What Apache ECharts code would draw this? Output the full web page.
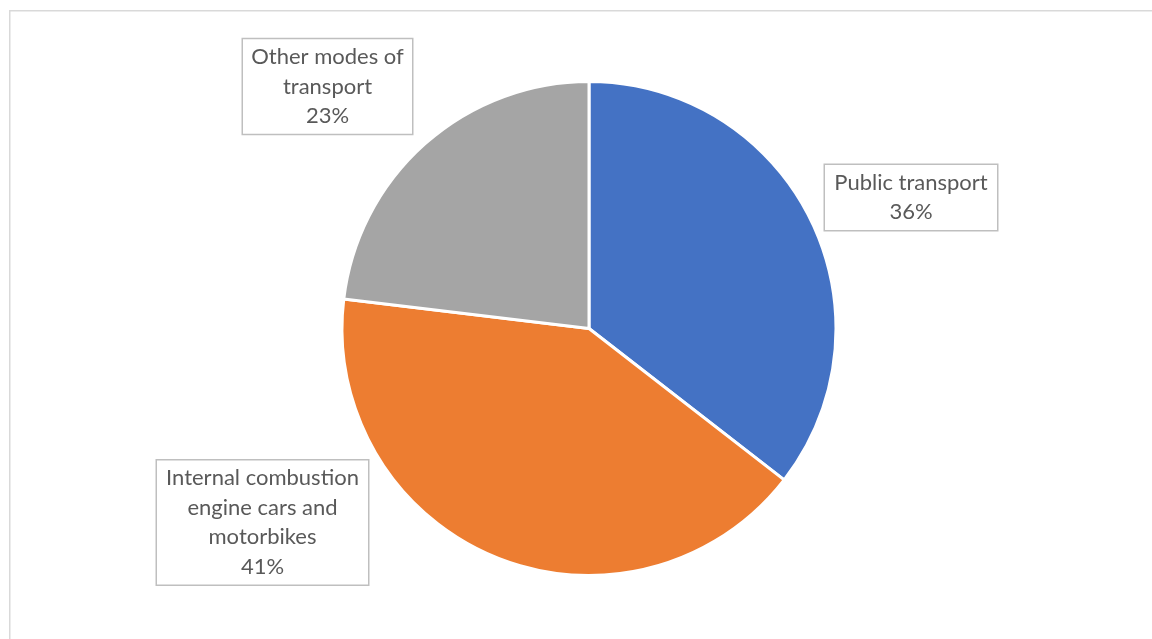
<!DOCTYPE html>
<html>
<head>
<meta charset="utf-8">
<script src="https://cdn.jsdelivr.net/npm/echarts@6/dist/echarts.min.js"></script>
<style>html,body{margin:0;padding:0;background:#fff}#c{width:1152px;height:639px}</style>
</head>
<body>
<div id="c"></div>
<script>
const categories = ['Public transport', 'Internal combustion engine cars and motorbikes', 'Other modes of transport'];
const labelTexts = ['Public transport', 'Internal combustion\nengine cars and\nmotorbikes', 'Other modes of\ntransport'];
const values = [35.5, 41.4, 23.1];
const colors = ['#4472C4', '#ED7D31', '#A5A5A5'];
const labelPos = [[911, 197.5], [262.5, 522.5], [327.5, 86.5]];
const labelWidths = [156, 195, 153];

const chart = echarts.init(document.getElementById('c'));
chart.setOption({
  animation: false,
  graphic: [{
    type: 'rect', left: 9, top: 10, z: -1,
    shape: { width: 1200, height: 700 },
    style: { fill: '#fff', stroke: '#d9d9d9', lineWidth: 1.5 }
  }],
  series: [{
    type: 'pie',
    center: [589, 328.5],
    radius: [0, 247],
    startAngle: 90,
    clockwise: true,
    itemStyle: { borderColor: '#fff', borderWidth: 3 },
    labelLine: { show: false },
    label: {
      show: true,
      position: 'outside',
      color: '#595959',
      fontFamily: 'Lato',
      fontSize: 22,
      lineHeight: 29.5,
      align: 'center',
      backgroundColor: '#fff',
      borderColor: '#bfbfbf',
      borderWidth: 1.5,
      padding: [5, 8, 1, 8],
      overflow: 'none',
      formatter: p => labelTexts[p.dataIndex] + '\n' + Math.round(p.value) + '%'
    },
    labelLayout: p => ({
      x: labelPos[p.dataIndex][0],
      y: labelPos[p.dataIndex][1],
      align: 'center',
      verticalAlign: 'middle',
      moveOverlap: false
    }),
    data: categories.map((c, i) => ({
      name: c, value: values[i],
      itemStyle: { color: colors[i] },
      label: { width: labelWidths[i] }
    }))
  }]
});
</script>
</body>
</html>
